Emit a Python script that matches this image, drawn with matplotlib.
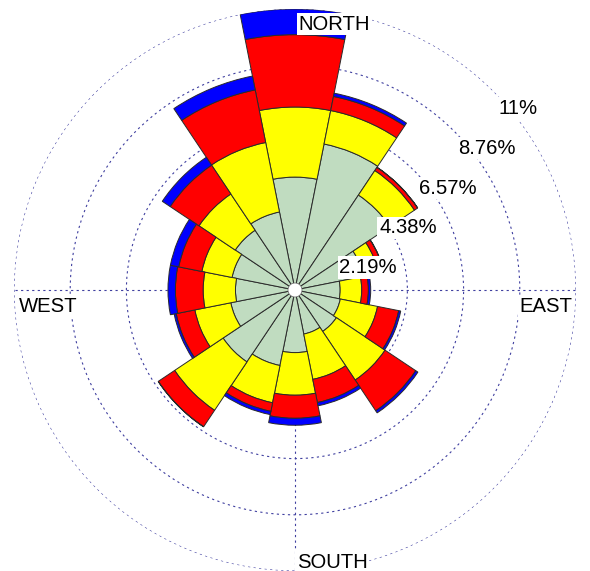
import matplotlib

matplotlib.use("Agg")
import matplotlib.pyplot as plt
import numpy as np
from matplotlib.patches import Circle

plt.rcParams["font.family"] = ["Liberation Sans", "DejaVu Sans"]

# 16 compass sectors, clockwise from north
directions = ["N", "NNE", "NE", "ENE", "E", "ESE", "SE", "SSE",
              "S", "SSW", "SW", "WSW", "W", "WNW", "NW", "NNW"]
angles_deg = np.arange(16) * 22.5

# frequency (%) per speed bin, innermost first
bin1 = [4.40, 5.80, 4.45, 2.72, 1.76, 1.80, 1.94, 1.75,
        2.44, 3.00, 3.37, 2.55, 2.32, 2.50, 2.80, 3.10]
bin2 = [2.73, 1.33, 1.15, 0.60, 0.84, 1.48, 2.28, 1.80,
        1.66, 1.48, 2.27, 1.43, 1.26, 1.20, 1.70, 2.76]
bin3 = [2.82, 0.56, 0.15, 0.20, 0.26, 0.84, 1.44, 0.92,
        0.90, 0.34, 0.77, 0.74, 1.08, 0.92, 1.35, 2.09]
bin4 = [1.00, 0.13, 0.00, 0.00, 0.09, 0.08, 0.10, 0.13,
        0.27, 0.13, 0.00, 0.08, 0.29, 0.33, 0.37, 0.55]
bin_colors = ["#c0dcc0", "#ffff00", "#ff0000", "#0000ff"]

ring_values = [2.19, 4.38, 6.57, 8.76, 10.95]
ring_labels = ["2.19%", "4.38%", "6.57%", "8.76%", "11%"]

grid_color = "#4040a0"
dotted = (0, (2.0, 3.0))

fig = plt.figure(figsize=(5.90, 5.71), dpi=100)
ax = fig.add_axes([14 / 590, 0.0, 562 / 590, 562 / 571], projection="polar")
ax.set_theta_zero_location("N")
ax.set_theta_direction(-1)

theta = np.deg2rad(angles_deg)
width = 2 * np.pi / len(directions)
bottom = np.zeros(len(directions))
for vals, col in zip([bin1, bin2, bin3, bin4], bin_colors):
    vals = np.array(vals)
    ax.bar(theta, vals, width=width, bottom=bottom, color=col,
           edgecolor="#2a2a2a", linewidth=0.7, align="center", zorder=2)
    bottom = bottom + vals

rmax = ring_values[-1]
ax.set_ylim(0, rmax)
ax.set_yticks(ring_values)
ax.set_yticklabels([])
ax.set_xticks(np.deg2rad([0, 90, 180, 270]))
ax.set_xticklabels([])
ax.grid(True, color=grid_color, linestyle=dotted, linewidth=0.8)
ax.set_axisbelow(True)
ax.spines["polar"].set_visible(False)

# white hole in the middle
ax.add_patch(Circle((0.5, 0.5), 7 / 562, transform=ax.transAxes,
                    facecolor="white", edgecolor="#666666", lw=0.5, zorder=5))

box = dict(facecolor="white", edgecolor="none", pad=1.2)
fs = 14.6
for r, lab in zip(ring_values, ring_labels):
    ax.annotate(lab, xy=(np.pi / 4, r), xytext=(3.3, -5.6), textcoords="offset points",
                ha="left", va="top", fontsize=fs, bbox=box, zorder=6)

ax.annotate("NORTH", xy=(0, rmax), xytext=(2.5, -4.0), textcoords="offset points",
            ha="left", va="top", fontsize=fs, bbox=box, zorder=6)
ax.annotate("EAST", xy=(np.pi / 2, rmax), xytext=(-2.5, -4.8), textcoords="offset points",
            ha="right", va="top", fontsize=fs, bbox=box, zorder=6)
ax.annotate("SOUTH", xy=(np.pi, rmax), xytext=(1.5, 2.2), textcoords="offset points",
            ha="left", va="baseline", fontsize=fs, bbox=box, zorder=6)
ax.annotate("WEST", xy=(1.5 * np.pi, rmax), xytext=(3.5, -4.8), textcoords="offset points",
            ha="left", va="top", fontsize=fs, bbox=box, zorder=6)

fig.savefig("out.png", dpi=100)
